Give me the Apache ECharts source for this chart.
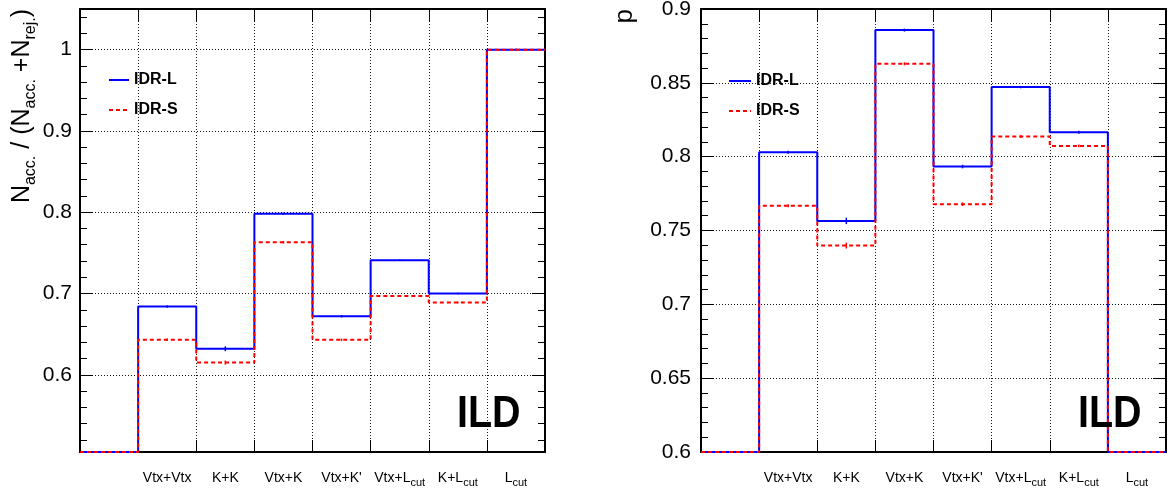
<!DOCTYPE html>
<html>
<head>
<meta charset="utf-8">
<script src="https://cdn.jsdelivr.net/npm/echarts@6/dist/echarts.min.js"></script>
<style>
  html, body { margin: 0; padding: 0; background: #ffffff; }
  #chart { width: 1172px; height: 491px; }
</style>
</head>
<body>
<div id="chart"></div>
<script>
// Selection categories (first bin has no label); "_" marks a subscript
const categories = ['', 'Vtx+Vtx', 'K+K', 'Vtx+K', "Vtx+K'", 'Vtx+L_cut', 'K+L_cut', 'L_cut'];

// Acceptance fraction N_acc / (N_acc + N_rej)
const acceptLong = [0, 0.684, 0.632, 0.798, 0.672, 0.741, 0.700, 1.000];
const acceptLongErr = [0, 0.0015, 0.0030, 0.0015, 0.0015, 0.0010, 0.0010, 0.0010];
const acceptShort = [0, 0.643, 0.615, 0.763, 0.643, 0.697, 0.689, 1.000];
const acceptShortErr = [0, 0.0015, 0.0025, 0.0015, 0.0015, 0.0010, 0.0012, 0.0010];

// Purity p
const purityLong = [0, 0.8030, 0.7565, 0.8857, 0.7933, 0.8471, 0.8166, 0];
const purityLongErr = [0, 0.0010, 0.0022, 0.0010, 0.0012, 0.0008, 0.0010, 0];
const purityShort = [0, 0.7667, 0.7398, 0.8629, 0.7678, 0.8136, 0.8073, 0];
const purityShortErr = [0, 0.0010, 0.0020, 0.0010, 0.0012, 0.0010, 0.0010, 0];

// Axis ranges and tick values
const acceptRange = [0.505, 1.05];
const acceptMajorTicks = [0.6, 0.7, 0.8, 0.9, 1.0];
const acceptMinorTicks = [];
for (let k = 26; k <= 52; k++) { if (k % 5 !== 0) acceptMinorTicks.push(k / 50); }

const purityRange = [0.6, 0.9];
const purityMajorTicks = [0.6, 0.65, 0.7, 0.75, 0.8, 0.85, 0.9];
const purityMinorTicks = [];
for (let k = 61; k <= 89; k++) { if (k % 5 !== 0) purityMinorTicks.push(k / 100); }

const FONT = 'Liberation Sans, Arial, Helvetica, sans-serif';
const BLUE = '#0000ff';
const RED = '#ff0000';
const GRID_LINE = { color: '#1a1a1a', width: 1, type: [1, 2] };
const FRAME = { show: true, lineStyle: { color: '#000', width: 2 } };

const grids = [
  { left: 80, top: 9, width: 465, height: 443 },
  { left: 701, top: 9, width: 465, height: 443 }
];

function fmtTick(v) { return String(+(+v).toFixed(2)); }

function catLabel(text) {
  if (!text) return '';
  const parts = text.split('_');
  return parts.length > 1 ? '{m|' + parts[0] + '}{s|' + parts[1] + '}' : '{m|' + text + '}';
}

const xAxes = [];
const yAxes = [];

function addAxes(gridIndex, range, majors, minors, labelMargin, useInterval) {
  // bin edges: ticks + dotted grid
  xAxes.push({
    gridIndex, type: 'value', min: 0, max: categories.length, interval: 1, position: 'bottom',
    axisLine: FRAME, axisTick: { show: true, inside: true, length: 12, lineStyle: { color: '#000', width: 1 } },
    axisLabel: { show: false }, splitLine: { show: true, lineStyle: GRID_LINE }
  });
  xAxes.push({
    gridIndex, type: 'value', min: 0, max: categories.length, interval: 1, position: 'top',
    axisLine: FRAME, axisTick: { show: true, inside: true, length: 13, lineStyle: { color: '#000', width: 1 } },
    axisLabel: { show: false }, splitLine: { show: false }
  });
  // category names at bin centres
  xAxes.push({
    gridIndex, type: 'category', data: categories, position: 'bottom', boundaryGap: true,
    axisLine: { show: false }, axisTick: { show: false }, splitLine: { show: false },
    axisLabel: {
      interval: 0, margin: 19, color: '#000', fontFamily: FONT,
      formatter: catLabel,
      rich: {
        m: { fontSize: 14, lineHeight: 17, verticalAlign: 'top', fontFamily: FONT, color: '#000' },
        s: { fontSize: 11, lineHeight: 17, verticalAlign: 'bottom', fontFamily: FONT, color: '#000' }
      }
    }
  });

  const base = { gridIndex, type: 'value', min: range[0], max: range[1] };
  if (useInterval) base.interval = useInterval; else base.splitNumber = 5;

  yAxes.push(Object.assign({}, base, {
    position: 'left', axisLine: FRAME,
    axisTick: { show: true, inside: true, length: 13, customValues: majors, lineStyle: { color: '#000', width: 1 } },
    axisLabel: { show: true, customValues: majors, formatter: fmtTick, margin: labelMargin, fontSize: 21, fontFamily: FONT, color: '#000' },
    splitLine: { show: true, lineStyle: GRID_LINE }
  }));
  yAxes.push(Object.assign({}, base, {
    position: 'left', axisLine: { show: false },
    axisTick: { show: true, inside: true, length: 7, customValues: minors, lineStyle: { color: '#000', width: 1 } },
    axisLabel: { show: false }, splitLine: { show: false }
  }));
  yAxes.push(Object.assign({}, base, {
    position: 'right', axisLine: FRAME,
    axisTick: { show: true, inside: true, length: 13, customValues: majors, lineStyle: { color: '#000', width: 1 } },
    axisLabel: { show: false }, splitLine: { show: false }
  }));
  yAxes.push(Object.assign({}, base, {
    position: 'right', axisLine: { show: false },
    axisTick: { show: true, inside: true, length: 7, customValues: minors, lineStyle: { color: '#000', width: 1 } },
    axisLabel: { show: false }, splitLine: { show: false }
  }));
}

addAxes(0, acceptRange, acceptMajorTicks, acceptMinorTicks, 8, null);
addAxes(1, purityRange, purityMajorTicks, purityMinorTicks, 10, 0.05);

// histogram outline: one point per bin edge, values below the frame sit on its bottom edge
function stepPoints(values, yMin) {
  const pts = values.map((v, i) => [i, Math.max(v, yMin)]);
  pts.push([values.length, Math.max(values[values.length - 1], yMin)]);
  return pts;
}

function errorPoints(values, errs, yMin) {
  return values.map((v, i) => [i + 0.5, v, errs[i]]).filter(d => d[2] > 0 && d[1] >= yMin);
}

function histSeries(name, values, panel, yMin, color, dashed, z) {
  return {
    name, type: 'line', step: 'end', xAxisIndex: panel * 3, yAxisIndex: panel * 4,
    data: stepPoints(values, yMin), symbol: 'none', clip: false, z,
    color,
    lineStyle: { color, width: 2, type: dashed ? [4, 3] : 'solid' },
    emphasis: { disabled: true }
  };
}

function errorSeries(values, errs, panel, yMin, color, z) {
  return {
    type: 'custom', xAxisIndex: panel * 3, yAxisIndex: panel * 4, z, silent: true,
    data: errorPoints(values, errs, yMin),
    renderItem: function (params, api) {
      const x = api.value(0), y = api.value(1), e = api.value(2);
      const p1 = api.coord([x, y - e]);
      const p2 = api.coord([x, y + e]);
      return {
        type: 'line',
        shape: { x1: p1[0], y1: p1[1], x2: p2[0], y2: p2[1] },
        style: { stroke: color, lineWidth: 1.5 }
      };
    }
  };
}

const series = [
  histSeries('IDR-L', acceptLong, 0, acceptRange[0], BLUE, false, 3),
  errorSeries(acceptLong, acceptLongErr, 0, acceptRange[0], BLUE, 3),
  histSeries('IDR-S', acceptShort, 0, acceptRange[0], RED, true, 4),
  errorSeries(acceptShort, acceptShortErr, 0, acceptRange[0], RED, 4),
  histSeries('IDR-L', purityLong, 1, purityRange[0], BLUE, false, 3),
  errorSeries(purityLong, purityLongErr, 1, purityRange[0], BLUE, 3),
  histSeries('IDR-S', purityShort, 1, purityRange[0], RED, true, 4),
  errorSeries(purityShort, purityShortErr, 1, purityRange[0], RED, 4)
];

function legendAt(left, top, width) {
  return {
    left, top, orient: 'vertical', padding: 0, itemWidth: width, itemHeight: 14, itemGap: 14,
    selectedMode: false, data: ['IDR-L', 'IDR-S'],
    itemStyle: { opacity: 0, color: 'transparent', borderWidth: 0 },
    textStyle: { fontSize: 16, fontWeight: 'bold', fontFamily: FONT, color: '#000' }
  };
}

function ildText(x) {
  return {
    type: 'text', x, y: 414.5, scaleX: 0.94, scaleY: 1.05, z: 10,
    style: { text: 'ILD', fontSize: 42, fontWeight: 'bold', fontFamily: FONT, fill: '#000', align: 'left', verticalAlign: 'middle' }
  };
}

const option = {
  backgroundColor: '#ffffff',
  animation: false,
  grid: grids.map(g => Object.assign({ containLabel: false, outerBoundsMode: 'none' }, g)),
  xAxis: xAxes,
  yAxis: yAxes,
  legend: [legendAt(108, 72, 20), legendAt(728, 73, 22)],
  series,
  graphic: [
    {
      type: 'text', x: 9.5, y: 9, rotation: Math.PI / 2, z: 10,
      style: {
        text: '{n|N}{s|acc.}{n| / (N}{s|acc.}{n| +N}{s|rej.}{n|)}',
        align: 'right', verticalAlign: 'top', fill: '#000',
        rich: {
          n: { fontSize: 25, lineHeight: 29, verticalAlign: 'top', fontFamily: FONT, fill: '#000' },
          s: { fontSize: 16, lineHeight: 29, verticalAlign: 'bottom', fontFamily: FONT, fill: '#000' }
        }
      }
    },
    {
      type: 'text', x: 624.5, y: 9, rotation: Math.PI / 2, z: 10,
      style: { text: 'p', fontSize: 26, fontFamily: FONT, fill: '#000', align: 'right', verticalAlign: 'middle' }
    },
    ildText(457),
    ildText(1078)
  ]
};

const chart = echarts.init(document.getElementById('chart'), null, { renderer: 'canvas' });
chart.setOption(option);
</script>
</body>
</html>
